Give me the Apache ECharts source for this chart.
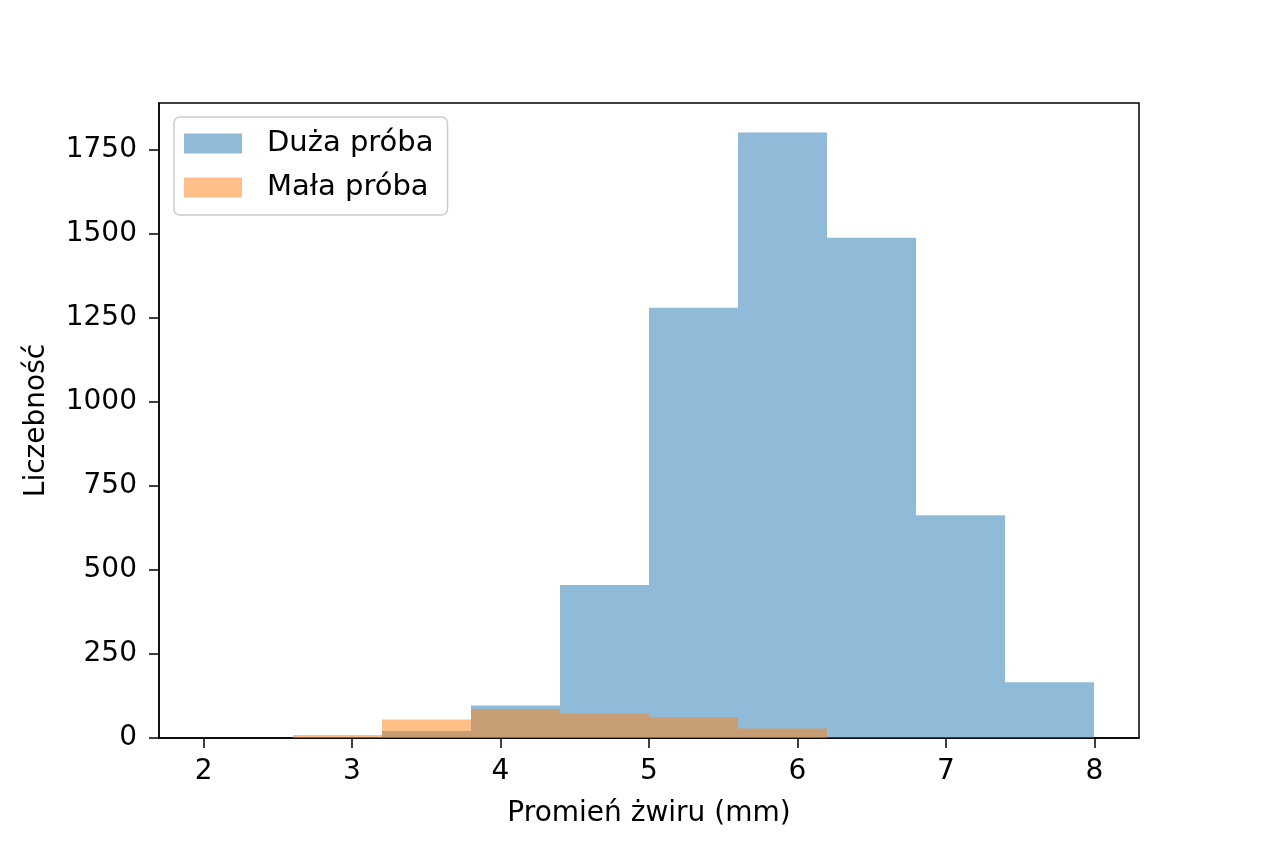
<!DOCTYPE html>
<html>
<head>
<meta charset="utf-8">
<script src="https://cdn.jsdelivr.net/npm/echarts@6/dist/echarts.min.js"></script>
<style>
  html, body { margin: 0; padding: 0; background: #fff; }
  #hist { width: 1264px; height: 843px; }
</style>
</head>
<body>
<div id="hist"></div>
<script>
// bin edges (mm), shared by both samples
var binEdges = [2.0, 2.6, 3.2, 3.8, 4.4, 5.0, 5.6, 6.2, 6.8, 7.4, 8.0];
// counts per bin
var duzaCounts = [0, 2, 21, 97, 455, 1280, 1801, 1488, 663, 166];
var malaCounts = [0, 9, 55, 86, 73, 62, 28, 0, 0, 0];
// tick labels
var xTicks = [2, 3, 4, 5, 6, 7, 8];
var yTicks = [0, 250, 500, 750, 1000, 1250, 1500, 1750];

function toBins(counts) {
    var out = [];
    for (var i = 0; i < counts.length; i++) {
        out.push([binEdges[i], binEdges[i + 1], counts[i]]);
    }
    return out;
}

function renderBar(params, api) {
    var top = api.coord([api.value(0), api.value(2)]);
    var base = api.coord([api.value(1), 0]);
    var x0 = Math.round(top[0]), x1 = Math.round(base[0]);
    return {
        type: 'rect',
        shape: { x: x0, y: top[1], width: x1 - x0, height: base[1] - top[1] },
        style: api.style()
    };
}

var histChart = echarts.init(document.getElementById('hist'));

var option = {
    animation: false,
    textStyle: { fontFamily: 'DejaVu Sans' },
    grid: {
        left: 159, top: 103, right: 125, bottom: 105,
        show: true, borderColor: '#000', borderWidth: 1.5
    },
    legend: {
        left: 174, top: 117,
        orient: 'vertical',
        icon: 'rect',
        itemWidth: 58, itemHeight: 20, itemGap: 15,
        padding: [12, 14, 13, 10],
        backgroundColor: 'rgba(255,255,255,0.8)',
        borderColor: '#cccccc', borderWidth: 1.5, borderRadius: 6,
        textStyle: { fontSize: 29, color: '#000', fontFamily: 'DejaVu Sans', padding: [0, 0, 0, 20] },
        data: ['Duża próba', 'Mała próba']
    },
    xAxis: {
        type: 'value',
        min: 1.7, max: 8.3,
        name: 'Promień żwiru (mm)',
        nameLocation: 'middle', nameGap: 62,
        nameTextStyle: { fontSize: 28, color: '#000', fontFamily: 'DejaVu Sans' },
        splitLine: { show: false },
        axisLine: { show: true, onZero: false, lineStyle: { color: '#000', width: 1.5 } },
        axisTick: { show: true, length: 10, customValues: xTicks, lineStyle: { color: '#000', width: 1.5 } },
        axisLabel: { customValues: xTicks, fontSize: 28, color: '#000', margin: 20 }
    },
    yAxis: {
        type: 'value',
        min: 0, max: 1889,
        name: 'Liczebność',
        nameLocation: 'middle', nameGap: 108,
        nameTextStyle: { fontSize: 28, color: '#000', fontFamily: 'DejaVu Sans' },
        splitLine: { show: false },
        axisLine: { show: true, lineStyle: { color: '#000', width: 1.5 } },
        axisTick: { show: true, length: 10, customValues: yTicks, lineStyle: { color: '#000', width: 1.5 } },
        axisLabel: {
            customValues: yTicks, fontSize: 28, color: '#000', margin: 22,
            formatter: function (v) { return String(v); }
        }
    },
    series: [
        {
            name: 'Duża próba',
            type: 'custom',
            renderItem: renderBar,
            encode: { x: [0, 1], y: 2 },
            itemStyle: { color: 'rgba(31,119,180,0.5)' },
            data: toBins(duzaCounts)
        },
        {
            name: 'Mała próba',
            type: 'custom',
            renderItem: renderBar,
            encode: { x: [0, 1], y: 2 },
            itemStyle: { color: 'rgba(255,127,14,0.5)' },
            data: toBins(malaCounts)
        }
    ]
};
histChart.setOption(option);
</script>
</body>
</html>
